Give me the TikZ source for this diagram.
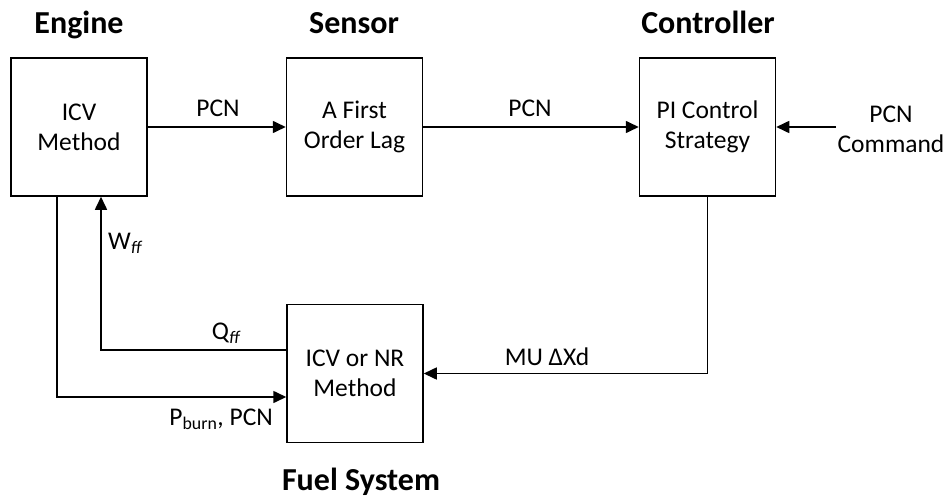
\documentclass[tikz,border=0pt]{standalone}
\usepackage{fontspec}
\setmainfont{Carlito}
\usetikzlibrary{arrows.meta}
\begin{document}
\begin{tikzpicture}[x=1pt,y=-1pt,
  blk/.style={draw, line width=1.5pt, minimum width=136pt, minimum height=138pt, align=center, inner sep=0pt, font=\fontsize{25.5}{30}\selectfont},
  ttl/.style={font=\fontsize{32}{36}\selectfont\bfseries, anchor=base, inner sep=0pt},
  lbl/.style={font=\fontsize{25.5}{30}\selectfont, inner sep=0pt},
  conn/.style={line width=1.6pt, -{Triangle[length=13pt,width=12pt]}},
  plain/.style={line width=1.6pt}]
\useasboundingbox (0,0) rectangle (949,500);
\node[blk] (engine) at (79,127) {ICV\\Method};
\node[blk] (sensor) at (354.5,127) {A First\\Order Lag};
\node[blk] (ctrl) at (707.5,127) {PI Control\\Strategy};
\node[blk] (fuel) at (355,373.5) {ICV or NR\\Method};
\node[ttl] (t1) at (79,34) {Engine};
\node[ttl] (t2) at (354,34) {Sensor};
\node[ttl] (t3) at (708,34) {Controller};
\node[ttl] (t4) at (361,490) {Fuel System};
\coordinate (cmd) at (836,127);
\coordinate (q) at (101,350);
\coordinate (pb) at (57,397);
\draw[conn] (engine.east) -- (sensor.west);
\draw[conn] (sensor.east) -- (ctrl.west);
\draw[conn] (cmd) -- (ctrl.east);
\draw[conn] (ctrl.south) |- (fuel.east);
\draw[conn] (fuel.west |- q) -| (engine.south -| q);
\draw[conn] (engine.south -| pb) |- (fuel.west |- pb);
\node[lbl, anchor=base] (l1) at (218,117) {PCN};
\node[lbl, anchor=base] (l2) at (530,117) {PCN};
\node[lbl, align=center] (l3) at (891,129) {PCN\\Command};
\node[lbl, anchor=west] (l4) at (108,243) {W\textsubscript{\itshape ff}};
\node[lbl] (l5) at (226,333) {Q\textsubscript{\itshape ff}};
\node[lbl, anchor=east] (l6) at (273,419) {P\textsubscript{burn}, PCN};
\node[lbl] (l7) at (547,357) {MU ΔXd};
\end{tikzpicture}
\end{document}
